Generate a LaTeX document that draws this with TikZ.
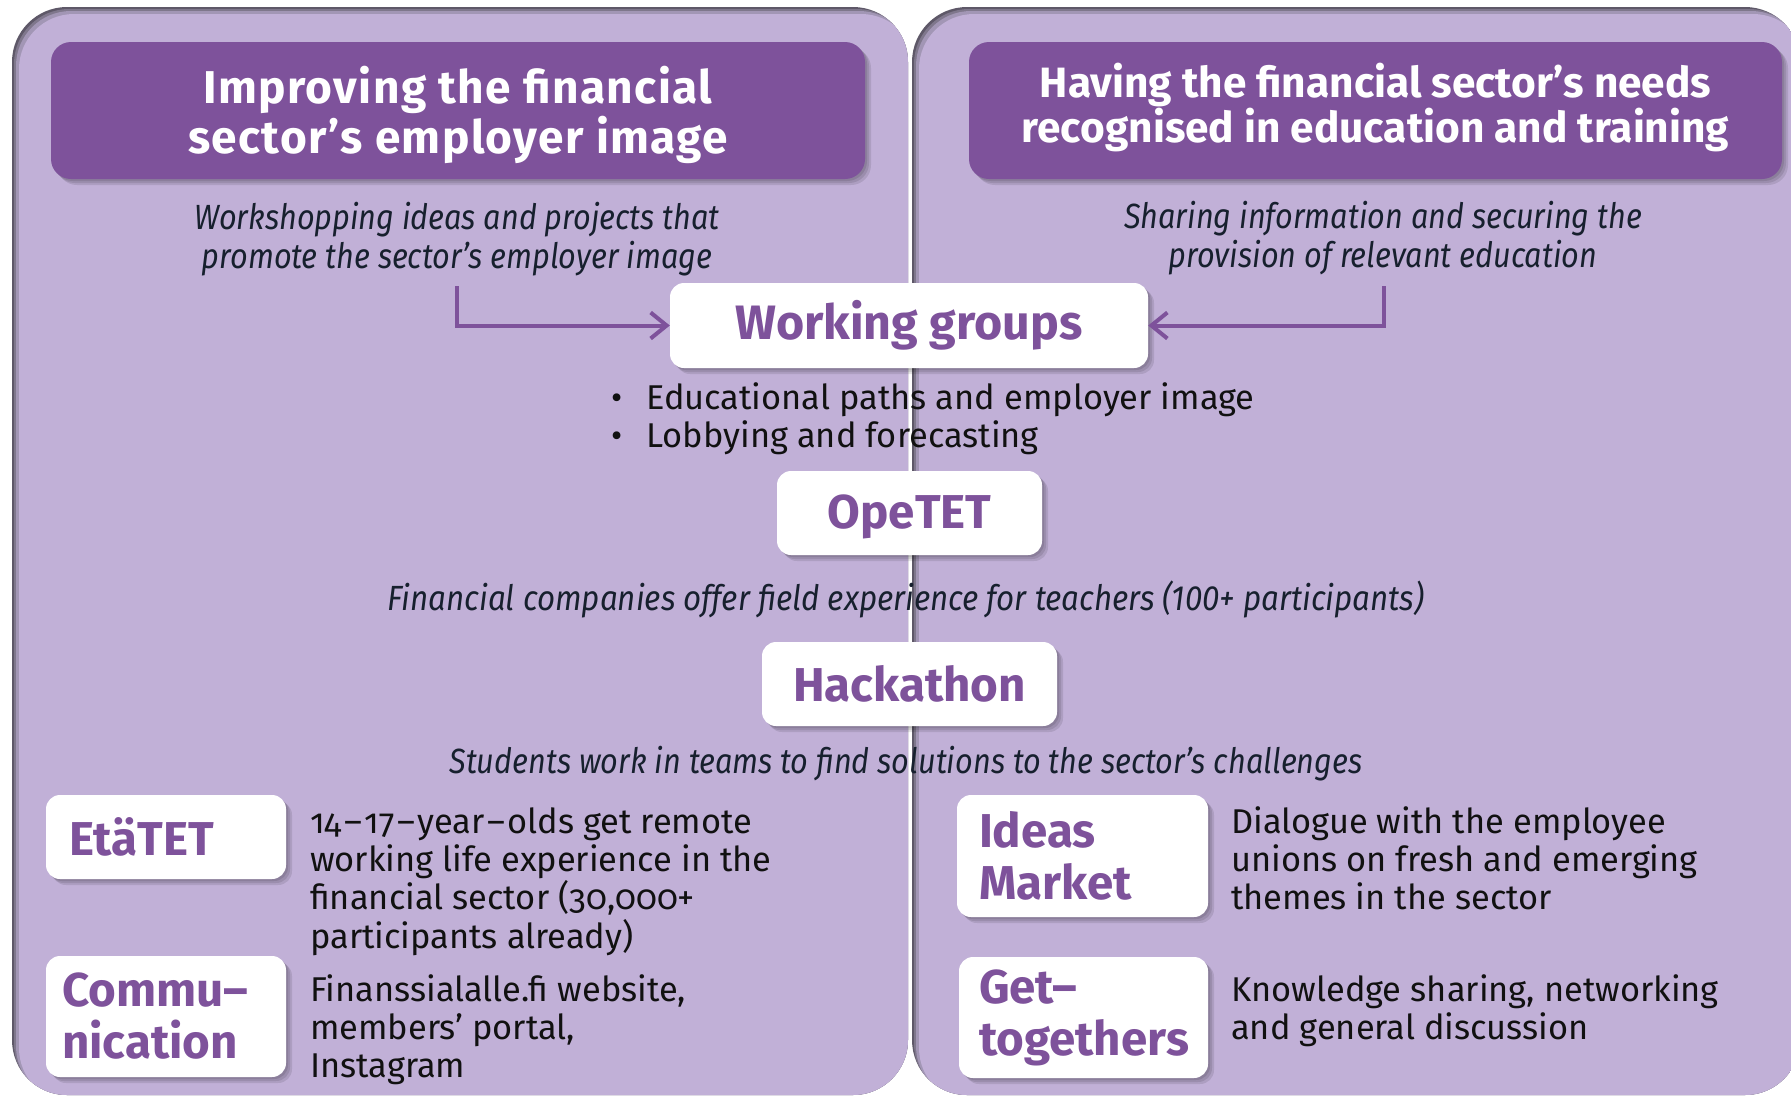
\documentclass[tikz,border=0pt]{standalone}
\usepackage{fontspec}
\setmainfont{Fira Sans}[Numbers=OldStyle]
\newfontfamily\condfont{Fira Sans}[FakeStretch=0.875]
\newfontfamily\condfontb{Fira Sans}[FakeStretch=0.895]
\newfontfamily\hdwide{Fira Sans}[LetterSpace=3]
\usetikzlibrary{arrows.meta,shadows}
\definecolor{lav}{HTML}{C1B0D7}
\definecolor{purp}{HTML}{7E529B}
\definecolor{sha}{HTML}{5E5868}
\definecolor{shb}{HTML}{7F778C}
\definecolor{shc}{HTML}{A296B5}
\definecolor{ink}{HTML}{111111}
\definecolor{inkit}{HTML}{17202E}
\newcommand\ydash{\kern2.5pt–\kern2.5pt}
\begin{document}
\begin{tikzpicture}[x=1pt,y=-1pt,
  softshadow/.style={
    general shadow={fill=black,opacity=0.10,shadow xshift=2pt,shadow yshift=-2pt},
    general shadow={fill=black,opacity=0.10,shadow xshift=4pt,shadow yshift=-4pt},
    general shadow={fill=black,opacity=0.10,shadow xshift=6pt,shadow yshift=-6pt}},
  hdrbox/.style={fill=purp,rounded corners=20pt,softshadow,
    minimum width=814pt,minimum height=137pt,inner sep=0pt},
  hdrtext/.style={text=white,align=center,inner sep=0pt},
  wbox/.style={fill=white,rounded corners=14pt,softshadow,text=purp,inner sep=0pt,
    font=\bfseries\fontsize{47.5}{52}\selectfont},
  lbox/.style={wbox,align=left},
  body/.style={text=ink,align=left,inner sep=0pt,font=\fontsize{34.4}{38.2}\selectfont},
  subt/.style={text=inkit,align=center,inner sep=0pt,font=\condfont\itshape\fontsize{35}{39}\selectfont},
  arr/.style={draw=purp,line width=4pt,-{Straight Barb[length=16pt,width=26pt]}}]
\useasboundingbox (0,0) rectangle (1791,1096);
\fill[white] (0,0) rectangle (1791,1096);
% panels with inner shadow on top/left
\begin{scope}
  \clip[rounded corners=55pt] (12,7) rectangle (908,1095);
  \fill[sha] (12,7) rectangle (908,1095);
  \fill[shb,rounded corners=55pt] (14,9) rectangle (912,1099);
  \fill[shc,rounded corners=55pt] (16,11) rectangle (914,1101);
  \fill[lav,rounded corners=55pt] (19,14) rectangle (916,1103);
\end{scope}
\begin{scope}
  \clip[rounded corners=55pt] (912,7) rectangle (1800,1095);
  \fill[sha] (912,7) rectangle (1800,1095);
  \fill[shb,rounded corners=55pt] (914,9) rectangle (1804,1099);
  \fill[shc,rounded corners=55pt] (916,11) rectangle (1806,1101);
  \fill[lav,rounded corners=55pt] (919,14) rectangle (1808,1103);
\end{scope}
% headers
\node[hdrbox] (hL) at (458,110.5) {};
\node[hdrtext,font=\hdwide\bfseries\fontsize{46}{50}\selectfont] (hLt) at (458,115)
  {Improving the financial\\sector’s employer image};
\node[hdrbox,minimum width=813pt] (hR) at (1375.5,110.5) {};
\node[hdrtext,font=\bfseries\fontsize{42.4}{43.5}\selectfont] (hRt) at (1375.5,107.5)
  {Having the financial sector’s needs\\recognised in education and training};
% subtitles
\node[subt] (sL) at (457,239.5) {Workshopping ideas and projects that\\promote the sector’s employer image};
\node[subt] (sR) at (1383,238.5) {Sharing information and securing the\\provision of relevant education};
% center column
\node[wbox,minimum width=478pt,minimum height=85pt,font=\bfseries\fontsize{48.3}{52}\selectfont] (wg) at (909,325.5) {Working groups};
\coordinate (aL) at (457,286);
\coordinate (aR) at (1384,286);
\draw[arr] (aL) |- (wg.west);
\draw[arr] (aR) |- (wg.east);
\node[body,anchor=west] (bul) at (611,418.5)
  {\textbullet\hspace{24pt}Educational paths and employer image\\\textbullet\hspace{24pt}Lobbying and forecasting};
\node[wbox,minimum width=265pt,minimum height=84pt,text depth=3pt] (ope) at (909.5,513) {OpeTET};
\node[subt,font=\condfontb\itshape\fontsize{35}{39}\selectfont] (fin) at (906,599.5) {Financial companies offer field experience for teachers (100+ participants)};
\node[wbox,minimum width=295pt,minimum height=84pt] (hack) at (909.5,684) {Hackathon};
\node[subt] (stu) at (906,763.5) {Students work in teams to find solutions to the sector’s challenges};
% left bottom
\node[lbox,inner xsep=23.5pt,text width=193pt,minimum height=84pt] (eta) at (166,837) {EtäTET};
\node[body,anchor=west] (etad) at (310,881.5)
  {14\ydash17\ydash year\ydash olds get remote\\working life experience in the\\financial sector (30,000+\\participants already)};
\node[lbox,inner xsep=16pt,text width=208pt,minimum height=121pt] (com) at (166,1016.5) {Commu–\\nication};
\node[body,anchor=west] (comd) at (310,1030)
  {Finanssialalle.fi website,\\members’ portal,\\Instagram};
% right bottom
\node[lbox,inner xsep=22pt,text width=207pt,minimum height=122pt] (idm) at (1082.5,856) {Ideas\\Market};
\node[body,anchor=west] (idmd) at (1231,858)
  {Dialogue with the employee\\unions on fresh and emerging\\themes in the sector};
\node[lbox,inner xsep=20pt,text width=209pt,minimum height=121pt] (get) at (1083.5,1017.5) {Get–\\togethers};
\node[body,anchor=west] (getd) at (1231,1010.5)
  {Knowledge sharing, networking\\and general discussion};
\end{tikzpicture}
\end{document}
